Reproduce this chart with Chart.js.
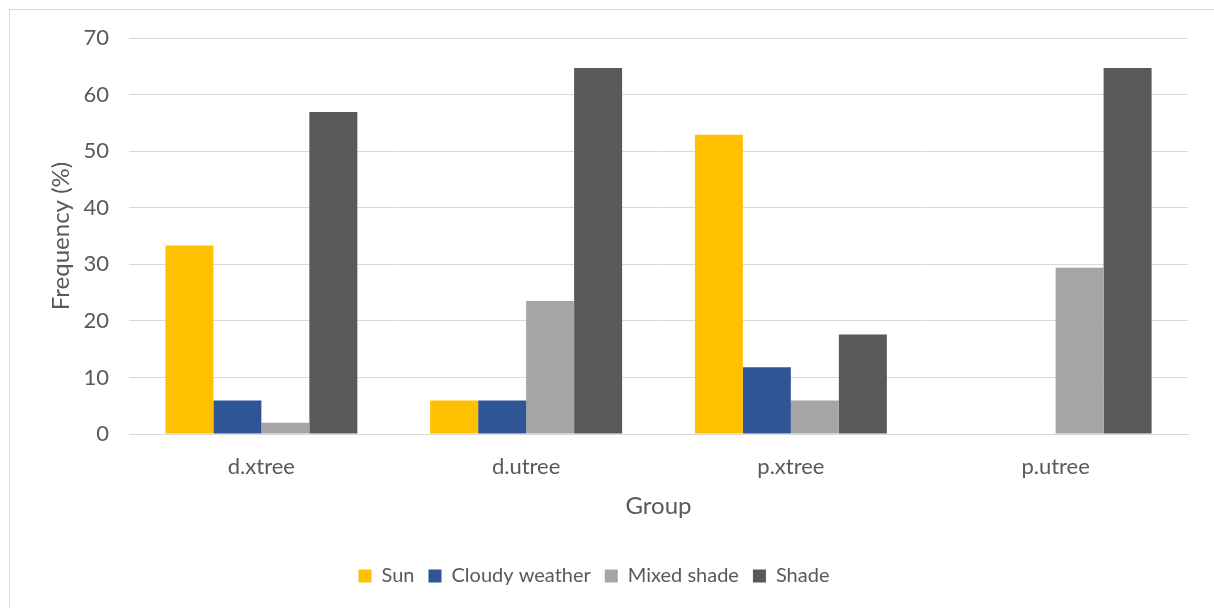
<!DOCTYPE html>
<html>
<head>
<meta charset="utf-8">
<script src="https://cdn.jsdelivr.net/npm/chart.js@4"></script>
<style>
  html, body { margin: 0; padding: 0; background: #fff; overflow: hidden; }
  #wrap { position: relative; width: 1214px; height: 608px; }
  #frame { position: absolute; left: 9px; top: 9px; width: 1400px; height: 800px; border: 1px solid #d9d9d9; box-sizing: border-box; }
  canvas { position: absolute; left: 0; top: 0; }
</style>
</head>
<body>
<div id="wrap">
  <div id="frame"></div>
  <canvas id="c" width="1214" height="608"></canvas>
</div>
<script>
// data
const groups = ["d.xtree", "d.utree", "p.xtree", "p.utree"];
const sun    = [33.3, 5.9, 52.9, 0];
const cloudy = [5.9, 5.9, 11.8, 0];
const mixed  = [2.0, 23.5, 5.9, 29.4];
const shade  = [56.9, 64.7, 17.6, 64.7];
const yTicks = [0, 10, 20, 30, 40, 50, 60, 70];

const FONT = "Lato, 'Open Sans', sans-serif";
const TXT = "#595959";
const GRID = "#d9d9d9";

const ds = (label, data, color) => ({ label, data, backgroundColor: color, borderWidth: 0 });

new Chart(document.getElementById("c"), {
  type: "bar",
  data: {
    labels: groups,
    datasets: [
      ds("Sun", sun, "#ffc000"),
      ds("Cloudy weather", cloudy, "#2f5597"),
      ds("Mixed shade", mixed, "#a5a5a5"),
      ds("Shade", shade, "#595959")
    ]
  },
  options: {
    responsive: false,
    animation: false,
    datasets: { bar: { barPercentage: 1, categoryPercentage: 0.725 } },
    layout: { padding: { left: 0, right: 26, top: 38, bottom: 12 } },
    plugins: {
      tooltip: { enabled: false },
      legend: {
        position: "bottom",
        labels: {
          color: TXT,
          font: { family: FONT, size: 20 },
          boxWidth: 13, boxHeight: 13,
          padding: 14
        }
      }
    },
    scales: {
      x: {
        grid: { display: false, drawTicks: false },
        border: { display: true, color: GRID, width: 1 },
        ticks: { color: TXT, font: { family: FONT, size: 22 }, padding: 20 },
        title: {
          display: true, text: "Group", color: TXT,
          font: { family: FONT, size: 24 },
          padding: { top: 31, bottom: 31 }
        },
        afterFit: s => { s.height = 118; }
      },
      y: {
        min: 0, max: 70,
        afterBuildTicks: s => { s.ticks = yTicks.map(v => ({ value: v })); },
        grid: { color: GRID, lineWidth: 1, drawTicks: false },
        border: { display: false },
        ticks: { color: TXT, font: { family: FONT, size: 22 }, padding: 20 },
        title: {
          display: true, text: "Frequency (%)", color: TXT,
          font: { family: FONT, size: 24 },
          padding: { top: 47, bottom: 47 }
        },
        afterFit: s => { s.width = 129; }
      }
    }
  }
});
</script>
</body>
</html>
